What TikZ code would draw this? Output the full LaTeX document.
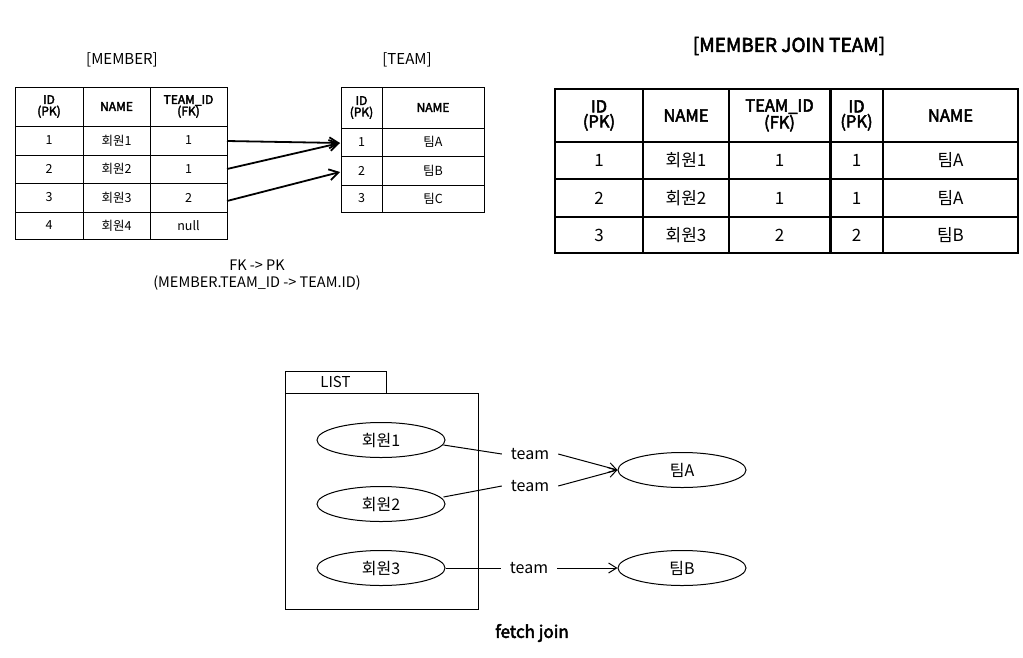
\documentclass[tikz,border=0pt]{standalone}
\usepackage{fontspec}
\setmainfont{Noto Sans CJK KR}
\newfontface\medfont[FakeBold=3]{Noto Sans CJK KR}
\usetikzlibrary{arrows.meta,shapes.geometric}
\begin{document}
\begin{tikzpicture}[x=1pt,y=-1pt,
  grid/.style={line width=1pt},
  jgrid/.style={line width=1.3pt},
  shdr/.style={font=\medfont\fontsize{12}{11.5}\selectfont, align=center, inner sep=0pt},
  sdat/.style={font=\fontsize{12.5}{13}\selectfont, inner sep=0pt},
  jhdr/.style={font=\medfont\fontsize{16.5}{15}\selectfont, align=center, inner sep=0pt},
  jdat/.style={font=\fontsize{17}{17}\selectfont, inner sep=0pt},
  ttl/.style={font=\fontsize{15}{15}\selectfont, inner sep=0pt},
  fkarrow/.style={line width=1.8pt, -{Straight Barb[length=9pt,width=11pt,line width=1.8pt]}},
  obj/.style={ellipse, draw, line width=1pt, minimum width=128pt, minimum height=35pt, inner sep=0pt, font=\fontsize{16}{16}\selectfont},
  lbl/.style={font=\fontsize{16}{16}\selectfont, inner sep=0pt},
  refarrow/.style={line width=1pt, -{Straight Barb[length=8pt,width=10pt]}}
]
\useasboundingbox (0,0) rectangle (1023,657);

% ---------- MEMBER table ----------
\node[ttl] (memberTitle) at (122,60) {[MEMBER]};
\draw[grid] (15,87) rectangle (227,239);
\foreach \x in {83,150} \draw[grid] (\x,87) -- (\x,239);
\foreach \y in {126,155,183,212} \draw[grid] (15,\y) -- (227,\y);
\node[shdr] (mh1) at (49,106.5) {ID\\(PK)};
\node[shdr] (mh2) at (116.5,106.5) {NAME};
\node[shdr] (mh3) at (188.5,106.5) {TEAM\_ID\\(FK)};
\foreach \i/\yy/\n/\t in {1/140.5/회원1/1, 2/169/회원2/1, 3/197.5/회원3/2, 4/225.5/회원4/null}{
  \node[sdat] (mid\i) at (49,\yy) {\i};
  \node[sdat] (mname\i) at (116.5,\yy) {\n};
  \node[sdat] (mteam\i) at (188.5,\yy) {\t};
}

% ---------- TEAM table ----------
\node[ttl] (teamTitle) at (407,60) {[TEAM]};
\draw[grid] (341,87) rectangle (484,212);
\draw[grid] (382,87) -- (382,212);
\foreach \y in {128,156,185} \draw[grid] (341,\y) -- (484,\y);
\node[shdr] (th1) at (361.5,107.5) {ID\\(PK)};
\node[shdr] (th2) at (433,107.5) {NAME};
\foreach \i/\yy/\n in {1/142/팀A, 2/170.5/팀B, 3/198.5/팀C}{
  \node[sdat] (tid\i) at (361.5,\yy) {\i};
  \node[sdat] (tname\i) at (433,\yy) {\n};
}

% FK arrows
\coordinate (mr1) at (227,141);
\coordinate (mr2) at (227,169);
\coordinate (mr3) at (227,201);
\coordinate (tl1) at (340,143);
\coordinate (tl2) at (340,172);
\draw[fkarrow] (mr1) -- (tl1);
\draw[fkarrow] (mr2) -- (tl1);
\draw[fkarrow] (mr3) -- (tl2);

\node[ttl, align=center, font=\fontsize{14.5}{17}\selectfont] (fkpk) at (257,275.5) {FK -> PK\\(MEMBER.TEAM\_ID -> TEAM.ID)};

% ---------- JOIN table ----------
\node[font=\medfont\fontsize{19}{19}\selectfont, inner sep=0pt] (joinTitle) at (789,46) {[MEMBER JOIN TEAM]};
\draw[jgrid] (555,89) rectangle (1018,253);
\foreach \x in {643,729,883} \draw[jgrid] (\x,89) -- (\x,253);
\draw[line width=2.6pt] (830.5,89) -- (830.5,253);
\foreach \y in {142,179,217} \draw[jgrid] (555,\y) -- (1018,\y);
\node[jhdr] (jh1) at (599,115.5) {ID\\(PK)};
\node[jhdr] (jh2) at (686,115.5) {NAME};
\node[jhdr] (jh3) at (779.5,115.5) {TEAM\_ID\\(FK)};
\node[jhdr] (jh4) at (856.5,115.5) {ID\\(PK)};
\node[jhdr] (jh5) at (950.5,115.5) {NAME};
\foreach \i/\yy/\n/\t/\tn in {1/160.5/회원1/1/팀A, 2/198/회원2/1/팀A, 3/235/회원3/2/팀B}{
  \node[jdat] (ja\i) at (599,\yy) {\i};
  \node[jdat] (jb\i) at (686,\yy) {\n};
  \node[jdat] (jc\i) at (779.5,\yy) {\t};
  \node[jdat] (jd\i) at (856.5,\yy) {\t};
  \node[jdat] (je\i) at (950.5,\yy) {\tn};
}

% ---------- fetch join object graph ----------
\draw[line width=1pt] (285,393) rectangle (386,371);
\node[font=\fontsize{15}{15}\selectfont, inner sep=0pt] (listTitle) at (335.5,382) {LIST};
\draw[line width=1pt] (285,393) rectangle (478,609);

\node[obj] (m1) at (381,440) {회원1};
\node[obj] (m2) at (381,504) {회원2};
\node[obj] (m3) at (381,568) {회원3};
\node[obj] (tA) at (682,470) {팀A};
\node[obj] (tB) at (682,568) {팀B};

\node[lbl, minimum width=56pt, minimum height=14pt] (l1) at (530,454) {team};
\node[lbl, minimum width=56pt, minimum height=14pt] (l2) at (530,486) {team};
\node[lbl, minimum width=56pt, minimum height=14pt] (l3) at (529,568) {team};

\draw[line width=1pt] (m1.east) ++(-2,5) coordinate (s1) (s1) -- (l1.west);
\draw[refarrow] (l1.east) -- (tA.west);
\draw[line width=1pt] (m2.east) ++(-2,-7) coordinate (s2) (s2) -- (l2.west);
\draw[refarrow] (l2.east) -- (tA.west);
\draw[line width=1pt] (m3.east) -- (l3.west);
\draw[refarrow] (l3.east) -- (tB.west);

\node[font=\medfont\fontsize{17}{17}\selectfont, inner sep=0pt] (fetchjoin) at (532,633) {fetch join};
\end{tikzpicture}
\end{document}
